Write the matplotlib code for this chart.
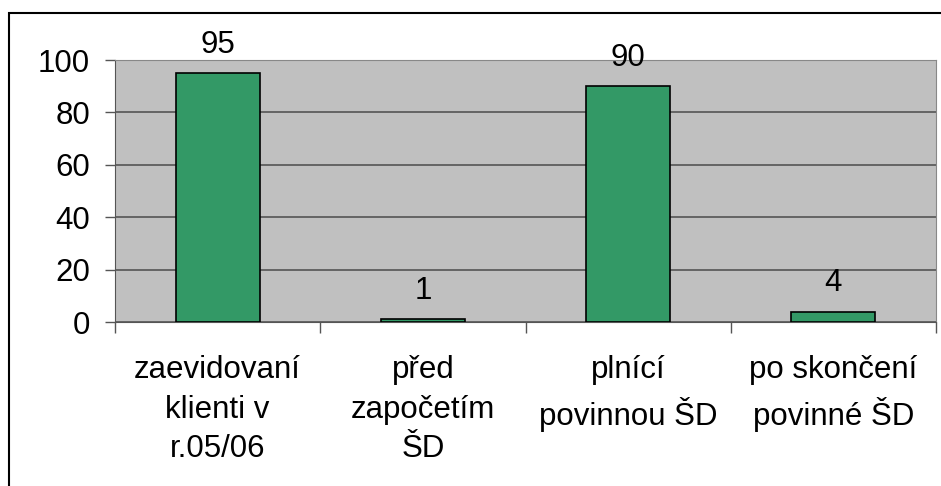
import matplotlib.pyplot as plt
import numpy as np

plt.rcParams['font.family'] = ['Liberation Sans', 'DejaVu Sans']

categories = ['zaevidovaní\nklienti v\nr.05/06', 'před\nzapočetím\nŠD',
              'plnící\npovinnou ŠD', 'po skončení\npovinné ŠD']
values = [95, 1, 90, 4]
yticks = [0, 20, 40, 60, 80, 100]

fig = plt.figure(figsize=(9.41, 4.86), dpi=100)
# outer chart frame (bottom edge runs off the image)
fig.add_artist(plt.Rectangle((9 / 941, -0.1), (941 - 9) / 941 + 0.1, 1.1 - 13 / 486,
                             transform=fig.transFigure, fill=False,
                             edgecolor='black', linewidth=1.5))

ax = fig.add_axes([115 / 941, 1 - 322 / 486, (936 - 115) / 941, (322 - 60) / 486])
ax.set_facecolor('#C0C0C0')

x = np.arange(len(values))
bars = ax.bar(x, values, width=0.41, color='#339966', edgecolor='black', linewidth=1.2, zorder=3)
for xi, v in zip(x, values):
    ax.text(xi, v + 5, str(v), ha='center', va='bottom', fontsize=22.5, clip_on=False)

ax.set_xlim(-0.5, len(values) - 0.5)
ax.set_ylim(0, 100)
ax.set_yticks(yticks)
ax.tick_params(axis='y', labelsize=22.5, length=7, width=1, color='#555555', pad=11)
ax.yaxis.grid(True, color='#555555', linewidth=1.2, zorder=1)

ax.set_xticks(x)
ax.set_xticklabels(categories, fontsize=22.5, linespacing=1.4)
ax.tick_params(axis='x', length=0, pad=24)
ax.set_xticks(np.arange(len(values) + 1) - 0.5, minor=True)
ax.tick_params(axis='x', which='minor', length=8, width=1, color='#555555')

for s in ['top', 'right']:
    ax.spines[s].set_color('#888888')
for s in ['left', 'bottom']:
    ax.spines[s].set_color('#555555')

fig.savefig('out.png', dpi=100)
